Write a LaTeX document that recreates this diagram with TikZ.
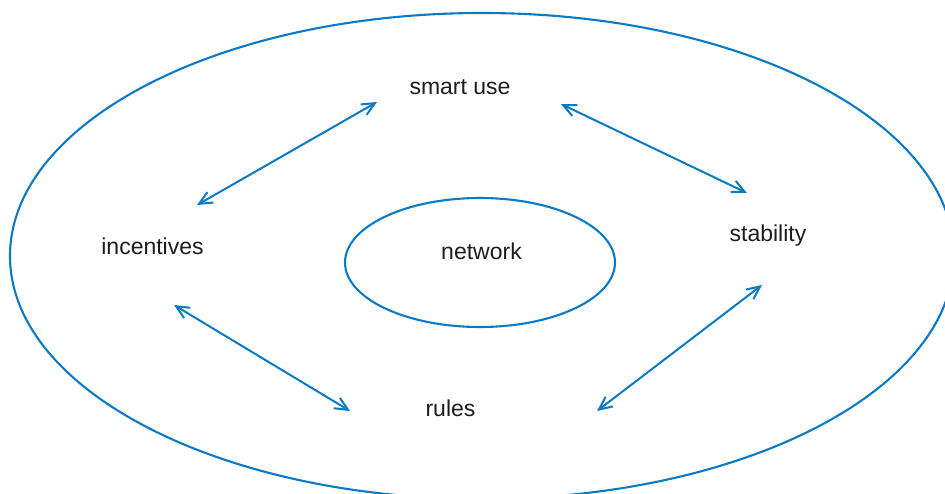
\documentclass[tikz,border=0pt]{standalone}
\usepackage{fontspec}
\setmainfont{Liberation Sans}
\usetikzlibrary{
  arrows.meta,
  positioning,
}
\definecolor{ringblue}{RGB}{10,122,196}
\definecolor{labelgray}{RGB}{30,28,29}
\tikzset{
  >={Straight Barb[length=13pt,width=12pt]},
}

\begin{document}
\begin{tikzpicture}[x=1pt, y=-1pt,
    every node/.style={anchor=base, inner sep=0pt, text=labelgray,
      font=\fontsize{23}{28}\selectfont},
    ring/.style={draw=ringblue, line width=2.1pt},
    link/.style={<->, draw=ringblue, line width=2pt}]
      \useasboundingbox (0,0) rectangle (945,494);
      \clip (0,0) rectangle (945,494);
      \draw [ring] (482,256) ellipse [x radius=472, y radius=243];
      \draw [ring] (480,262.5) ellipse [x radius=135, y radius=64.5];
      \node (network) at (481.5,260) {network};
      \node (smart) at (460,95) {smart use};
      \node (incentives) at (152.5,255) {incentives};
      \node (stability) at (768,242) {stability};
      \node (rules) at (450.5,416) {rules};
      \draw [link] ([shift={(-83,7)}]smart.base) -- ([shift={(44.5,-50)}]incentives.base);
      \draw [link] ([shift={(101,9)}]smart.base) -- ([shift={(-21,-49)}]stability.base);
      \draw [link] ([shift={(21.5,50)}]incentives.base) -- ([shift={(-100.5,-5)}]rules.base);
      \draw [link] ([shift={(-6,43)}]stability.base) -- ([shift={(146.5,-5)}]rules.base);
    \end{tikzpicture}
\end{document}
